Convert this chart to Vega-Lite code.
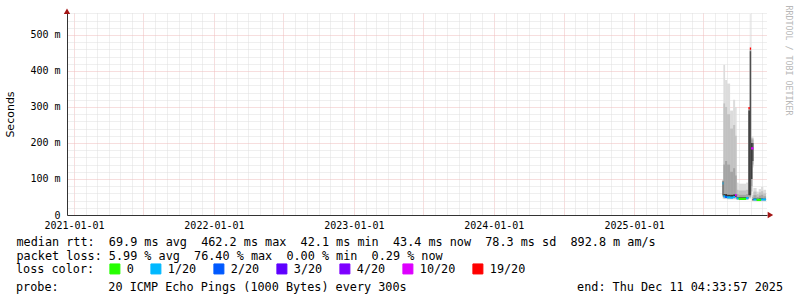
{
  "$schema": "https://vega.github.io/schema/vega-lite/v6.json",
  "width": 700,
  "height": 202,
  "autosize": "none",
  "padding": {"left": 67, "top": 13, "right": 30, "bottom": 82},
  "background": "#ffffff",
  "config": {
    "view": {"stroke": null},
    "axis": {"labelColor": "#000000", "titleColor": "#000000", "domainColor": "#333333", "labelFont": "DejaVu Sans Mono", "labelFontSize": 10}
  },
  "title": {
    "text": "probe:\u00a0\u00a0\u00a0\u00a0\u00a0\u00a0\u00a020\u00a0ICMP\u00a0Echo\u00a0Pings\u00a0(1000\u00a0Bytes)\u00a0every\u00a0300s\u00a0\u00a0\u00a0\u00a0\u00a0\u00a0\u00a0\u00a0\u00a0\u00a0\u00a0\u00a0\u00a0\u00a0\u00a0\u00a0\u00a0\u00a0\u00a0\u00a0\u00a0\u00a0\u00a0\u00a0end:\u00a0Thu\u00a0Dec\u00a011\u00a004:33:57\u00a02025",
    "orient": "bottom",
    "anchor": "start",
    "frame": "group",
    "dx": -51,
    "offset": 6,
    "font": "DejaVu Sans Mono",
    "fontSize": 11.8,
    "fontWeight": "normal",
    "color": "#000000",
    "limit": 2000
  },
  "datasets": {
    "smoke": [
      {"t0": "2025-08-19T21:00:00", "t1": "2025-08-21T21:00:00", "mn": 0.045, "p10": 0.05, "p25": 0.052, "p40": 0.055, "p60": 0.094, "p75": 0.096, "p90": 0.097, "mx": 0.1},
      {"t0": "2025-08-21T21:00:00", "t1": "2025-08-26T09:00:00", "mn": 0.044, "p10": 0.046, "p25": 0.049, "p40": 0.051, "p60": 0.058, "p75": 0.14, "p90": 0.31, "mx": 0.417},
      {"t0": "2025-08-26T09:00:00", "t1": "2025-08-31T14:00:00", "mn": 0.044, "p10": 0.046, "p25": 0.049, "p40": 0.051, "p60": 0.058, "p75": 0.15, "p90": 0.30, "mx": 0.375},
      {"t0": "2025-08-31T14:00:00", "t1": "2025-09-08T10:00:00", "mn": 0.043, "p10": 0.045, "p25": 0.048, "p40": 0.05, "p60": 0.056, "p75": 0.14, "p90": 0.28, "mx": 0.365},
      {"t0": "2025-09-08T10:00:00", "t1": "2025-09-16T07:00:00", "mn": 0.043, "p10": 0.045, "p25": 0.048, "p40": 0.05, "p60": 0.056, "p75": 0.12, "p90": 0.24, "mx": 0.29},
      {"t0": "2025-09-16T07:00:00", "t1": "2025-09-21T12:00:00", "mn": 0.043, "p10": 0.045, "p25": 0.048, "p40": 0.05, "p60": 0.057, "p75": 0.13, "p90": 0.25, "mx": 0.32},
      {"t0": "2025-09-21T12:00:00", "t1": "2025-09-25T10:00:00", "mn": 0.043, "p10": 0.045, "p25": 0.048, "p40": 0.05, "p60": 0.056, "p75": 0.11, "p90": 0.22, "mx": 0.30},
      {"t0": "2025-09-25T10:00:00", "t1": "2025-09-30T14:00:00", "mn": 0.042, "p10": 0.043, "p25": 0.045, "p40": 0.046, "p60": 0.05, "p75": 0.058, "p90": 0.07, "mx": 0.09},
      {"t0": "2025-09-30T14:00:00", "t1": "2025-10-20T05:00:00", "mn": 0.042, "p10": 0.043, "p25": 0.044, "p40": 0.045, "p60": 0.049, "p75": 0.056, "p90": 0.068, "mx": 0.087},
      {"t0": "2025-10-20T05:00:00", "t1": "2025-10-26T05:00:00", "mn": 0.042, "p10": 0.043, "p25": 0.045, "p40": 0.046, "p60": 0.05, "p75": 0.058, "p90": 0.07, "mx": 0.09},
      {"t0": "2025-10-26T05:00:00", "t1": "2025-10-29T19:00:00", "mn": 0.045, "p10": 0.047, "p25": 0.05, "p40": 0.055, "p60": 0.29, "p75": 0.293, "p90": 0.295, "mx": 0.297},
      {"t0": "2025-10-29T19:00:00", "t1": "2025-10-31T22:00:00", "mn": 0.045, "p10": 0.047, "p25": 0.05, "p40": 0.055, "p60": 0.455, "p75": 0.458, "p90": 0.46, "mx": 0.558},
      {"t0": "2025-10-31T22:00:00", "t1": "2025-11-02T05:00:00", "mn": 0.045, "p10": 0.047, "p25": 0.05, "p40": 0.055, "p60": 0.455, "p75": 0.458, "p90": 0.46, "mx": 0.463},
      {"t0": "2025-11-02T05:00:00", "t1": "2025-11-05T14:00:00", "mn": 0.06, "p10": 0.065, "p25": 0.08, "p40": 0.1, "p60": 0.2, "p75": 0.21, "p90": 0.214, "mx": 0.217},
      {"t0": "2025-11-05T14:00:00", "t1": "2025-11-08T05:00:00", "mn": 0.131, "p10": 0.135, "p25": 0.14, "p40": 0.15, "p60": 0.2, "p75": 0.21, "p90": 0.214, "mx": 0.217},
      {"t0": "2025-11-05T14:00:00", "t1": "2025-11-08T05:00:00", "mn": 0.038, "p10": 0.039, "p25": 0.04, "p40": 0.041, "p60": 0.044, "p75": 0.05, "p90": 0.055, "mx": 0.06},
      {"t0": "2025-11-08T05:00:00", "t1": "2025-11-16T14:00:00", "mn": 0.038, "p10": 0.04, "p25": 0.041, "p40": 0.042, "p60": 0.046, "p75": 0.055, "p90": 0.065, "mx": 0.075},
      {"t0": "2025-11-16T14:00:00", "t1": "2025-11-22T00:00:00", "mn": 0.038, "p10": 0.039, "p25": 0.04, "p40": 0.041, "p60": 0.045, "p75": 0.05, "p90": 0.058, "mx": 0.065},
      {"t0": "2025-11-22T00:00:00", "t1": "2025-11-28T07:00:00", "mn": 0.038, "p10": 0.04, "p25": 0.041, "p40": 0.042, "p60": 0.046, "p75": 0.054, "p90": 0.063, "mx": 0.072},
      {"t0": "2025-11-28T07:00:00", "t1": "2025-12-04T00:00:00", "mn": 0.038, "p10": 0.04, "p25": 0.041, "p40": 0.042, "p60": 0.046, "p75": 0.056, "p90": 0.066, "mx": 0.078},
      {"t0": "2025-12-04T00:00:00", "t1": "2025-12-11T04:33:57", "mn": 0.038, "p10": 0.04, "p25": 0.041, "p40": 0.042, "p60": 0.045, "p75": 0.052, "p90": 0.06, "mx": 0.07}
    ],
    "median": [
      {"t0": "2025-08-19T21:00:00", "t1": "2025-08-21T21:00:00", "med": 0.088, "loss": "1/20"},
      {"t0": "2025-08-21T21:00:00", "t1": "2025-08-26T09:00:00", "med": 0.052, "loss": "1/20"},
      {"t0": "2025-08-26T09:00:00", "t1": "2025-08-31T14:00:00", "med": 0.05, "loss": "2/20"},
      {"t0": "2025-08-31T14:00:00", "t1": "2025-09-08T10:00:00", "med": 0.049, "loss": "1/20"},
      {"t0": "2025-09-08T10:00:00", "t1": "2025-09-16T07:00:00", "med": 0.048, "loss": "1/20"},
      {"t0": "2025-09-16T07:00:00", "t1": "2025-09-21T12:00:00", "med": 0.05, "loss": "1/20"},
      {"t0": "2025-09-21T12:00:00", "t1": "2025-09-25T10:00:00", "med": 0.055, "loss": "10/20"},
      {"t0": "2025-09-25T10:00:00", "t1": "2025-09-30T14:00:00", "med": 0.046, "loss": "1/20"},
      {"t0": "2025-09-30T14:00:00", "t1": "2025-10-20T05:00:00", "med": 0.045, "loss": "0"},
      {"t0": "2025-10-20T05:00:00", "t1": "2025-10-26T05:00:00", "med": 0.047, "loss": "1/20"},
      {"t0": "2025-10-26T05:00:00", "t1": "2025-10-29T19:00:00", "med": 0.297, "loss": "19/20"},
      {"t0": "2025-10-29T19:00:00", "t1": "2025-11-02T05:00:00", "med": 0.462, "loss": "19/20"},
      {"t0": "2025-11-02T05:00:00", "t1": "2025-11-08T05:00:00", "med": 0.185, "loss": "10/20"},
      {"t0": "2025-11-08T05:00:00", "t1": "2025-11-16T14:00:00", "med": 0.043, "loss": "1/20"},
      {"t0": "2025-11-16T14:00:00", "t1": "2025-11-28T07:00:00", "med": 0.042, "loss": "0"},
      {"t0": "2025-11-28T07:00:00", "t1": "2025-12-11T04:33:57", "med": 0.043, "loss": "1/20"}
    ]
  },
  "layer": [
    {
      "data": {"name": "smoke"},
      "mark": {"type": "rect", "color": "#dcdcdc"},
      "encoding": {
        "x": {
          "field": "t0", "type": "temporal",
          "scale": {"domain": [{"year": 2020, "month": 12, "date": 13, "hours": 16}, {"year": 2025, "month": 12, "date": 13, "hours": 16}], "nice": false},
          "axis": {
            "tickCount": {"interval": "month", "step": 1},
            "grid": true,
            "gridColor": {"condition": {"test": "month(datum.value) % 6 == 0", "value": "#efbcbc"}, "value": "#dedede"},
            "gridDash": [1, 1],
            "ticks": false,
            "labelExpr": "month(datum.value) == 0 ? timeFormat(datum.value, '%Y-%m-%d') : ''",
            "labelOverlap": false,
            "labelFlush": false,
            "labelPadding": 5,
            "domainColor": "#333333",
            "title": ["median rtt:\u00a0\u00a069.9\u00a0ms\u00a0avg\u00a0\u00a0462.2\u00a0ms\u00a0max\u00a0\u00a042.1\u00a0ms\u00a0min\u00a0\u00a043.4\u00a0ms\u00a0now\u00a0\u00a078.3\u00a0ms\u00a0sd\u00a0\u00a0892.8\u00a0m\u00a0am/s", "packet\u00a0loss:\u00a05.99\u00a0%\u00a0avg\u00a0\u00a076.40\u00a0%\u00a0max\u00a0\u00a00.00\u00a0%\u00a0min\u00a0\u00a00.29\u00a0%\u00a0now"],
            "titleFont": "DejaVu Sans Mono",
            "titleFontSize": 11.8,
            "titleFontWeight": "normal",
            "titleColor": "#000000",
            "titleAlign": "left",
            "titleAnchor": "start",
            "titleBaseline": "alphabetic",
            "titleX": -51,
            "titleY": 30,
            "titleLineHeight": 14,
            "titleLimit": 2000
          }
        },
        "x2": {"field": "t1"},
        "y": {
          "field": "mn", "type": "quantitative",
          "scale": {"domain": [0, 0.561], "nice": false, "zero": true},
          "axis": {
            "values": [0, 0.02, 0.04, 0.06, 0.08, 0.1, 0.12, 0.14, 0.16, 0.18, 0.2, 0.22, 0.24, 0.26, 0.28, 0.3, 0.32, 0.34, 0.36, 0.38, 0.4, 0.42, 0.44, 0.46, 0.48, 0.5, 0.52, 0.54, 0.56],
            "grid": true,
            "gridColor": {"condition": {"test": "round(datum.value * 1000) % 100 == 0", "value": "#efbcbc"}, "value": "#dedede"},
            "gridDash": [1, 1],
            "ticks": false,
            "labelExpr": "round(datum.value * 1000) % 100 == 0 ? (datum.value == 0 ? '0' : round(datum.value * 1000) + ' m') : ''",
            "labelOverlap": false,
            "labelPadding": 7,
            "domainColor": "#333333",
            "title": "Seconds",
            "titleFont": "DejaVu Sans",
            "titleFontSize": 11,
            "titleFontWeight": "normal",
            "titleColor": "#000000",
            "titlePadding": 14
          }
        },
        "y2": {"field": "mx"}
      }
    },
    {
      "data": {"name": "smoke"},
      "mark": {"type": "rect", "color": "#c2c2c2"},
      "encoding": {
        "x": {"field": "t0", "type": "temporal"},
        "x2": {"field": "t1"},
        "y": {"field": "p10", "type": "quantitative", "axis": null},
        "y2": {"field": "p90"}
      }
    },
    {
      "data": {"name": "smoke"},
      "mark": {"type": "rect", "color": "#a4a4a4"},
      "encoding": {
        "x": {"field": "t0", "type": "temporal"},
        "x2": {"field": "t1"},
        "y": {"field": "p25", "type": "quantitative", "axis": null},
        "y2": {"field": "p75"}
      }
    },
    {
      "data": {"name": "smoke"},
      "mark": {"type": "rect", "color": "#333333"},
      "encoding": {
        "x": {"field": "t0", "type": "temporal"},
        "x2": {"field": "t1"},
        "y": {"field": "p40", "type": "quantitative", "axis": null},
        "y2": {"field": "p60"}
      }
    },
    {
      "data": {"name": "median"},
      "mark": {"type": "rect", "strokeWidth": 2.2},
      "encoding": {
        "x": {"field": "t0", "type": "temporal"},
        "x2": {"field": "t1"},
        "y": {
          "field": "med", "type": "quantitative",
          "axis": {
            "orient": "right",
            "labels": false, "ticks": false, "domain": false, "grid": false,
            "title": "RRDTOOL / TOBI OETIKER",
            "titleFont": "DejaVu Sans Mono",
            "titleFontSize": 8.3,
            "titleFontWeight": "normal",
            "titleColor": "#b8b8b8",
            "titleAngle": 90,
            "titleAlign": "left",
            "titleBaseline": "middle",
            "titleX": 20,
            "titleY": -8,
            "titleLimit": 500
          }
        },
        "y2": {"field": "med"},
        "color": {
          "field": "loss", "type": "nominal",
          "scale": {"domain": ["0", "1/20", "2/20", "3/20", "4/20", "10/20", "19/20"], "range": ["#26ff00", "#00b8ff", "#0059ff", "#5e00ff", "#7e00ff", "#dd00ff", "#ff0000"]},
          "legend": {
            "orient": "none",
            "legendX": -51,
            "legendY": 250,
            "direction": "horizontal",
            "columns": 7,
            "title": "loss color:",
            "titleOrient": "left",
            "titleFont": "DejaVu Sans Mono",
            "titleFontSize": 11.8,
            "titleFontWeight": "normal",
            "titleColor": "#000000",
            "titlePadding": 14,
            "titleBaseline": "middle",
            "symbolType": "square",
            "symbolSize": 100,
            "symbolStrokeColor": "#000000",
            "symbolStrokeWidth": 1,
            "symbolOpacity": 1,
            "labelFont": "DejaVu Sans Mono",
            "labelFontSize": 11.8,
            "labelColor": "#000000",
            "labelOffset": 6,
            "columnPadding": 14,
            "padding": 0
          }
        },
        "stroke": {
          "field": "loss", "type": "nominal",
          "scale": {"domain": ["0", "1/20", "2/20", "3/20", "4/20", "10/20", "19/20"], "range": ["#26ff00", "#00b8ff", "#0059ff", "#5e00ff", "#7e00ff", "#dd00ff", "#ff0000"]},
          "legend": null
        }
      }
    },
    {
      "data": {"values": [{}]},
      "mark": {"type": "point", "shape": "triangle-up", "filled": true, "size": 40, "color": "#a31515", "opacity": 1},
      "encoding": {
        "x": {"datum": {"year": 2020, "month": 12, "date": 13, "hours": 16}, "type": "temporal"},
        "y": {"datum": 0.566, "type": "quantitative", "axis": null}
      }
    },
    {
      "data": {"values": [{}]},
      "mark": {"type": "point", "shape": "triangle-right", "filled": true, "size": 40, "color": "#a31515", "opacity": 1},
      "encoding": {
        "x": {"datum": {"year": 2025, "month": 12, "date": 22, "hours": 16}, "type": "temporal"},
        "y": {"datum": 0, "type": "quantitative", "axis": null}
      }
    }
  ],
  "resolve": {"axis": {"y": "independent"}}
}
